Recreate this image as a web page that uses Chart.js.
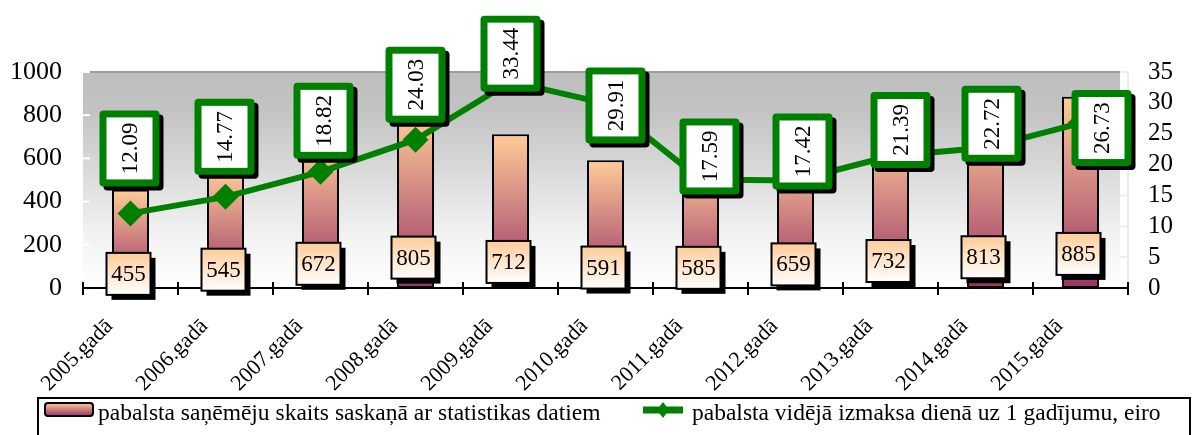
<!DOCTYPE html>
<html><head><meta charset="utf-8">
<script src="https://cdn.jsdelivr.net/npm/chart.js@4/dist/chart.umd.min.js"></script>
<style>html,body{margin:0;padding:0;background:#fff}#wrap{width:1198px;height:435px;position:relative}</style>
</head><body><div id="wrap"><canvas id="c" width="1198" height="435"></canvas></div>
<script>
// ---- data ----
const categories = ['2005.gadā','2006.gadā','2007.gadā','2008.gadā','2009.gadā','2010.gadā','2011.gadā','2012.gadā','2013.gadā','2014.gadā','2015.gadā'];
const recipients = [455,545,672,805,712,591,585,659,732,813,885];
const avgDaily = [12.09,14.77,18.82,24.03,33.44,29.91,17.59,17.42,21.39,22.72,26.73];
const leftTicks = [0,200,400,600,800,1000];
const rightTicks = [0,5,10,15,20,25,30,35];
const seriesNames = ['pabalsta saņēmēju skaits saskaņā ar statistikas datiem','pabalsta vidējā izmaksa dienā uz 1 gadījumu, eiro'];

// ---- style (label nudges in px, not data) ----
const lineLabelNudgeX = [-1,-1,3,0,0,10,9,7,10,6,21];
const lineLabelNudgeY = [-65,-60,-51,-55,-28,2,-23,-29,-26,-24,5];
const FONT = '"Liberation Serif","Times New Roman",serif';
const GREEN = '#008000';

function barGradient(ctx2d, top, bottom){
  const g = ctx2d.createLinearGradient(0, top, 0, bottom);
  g.addColorStop(0, '#FFCC99');
  g.addColorStop(1, '#993366');
  return g;
}

const decor = {
  id: 'decor',
  beforeDraw(chart){
    const {ctx, chartArea: a} = chart;
    ctx.save();
    const g = ctx.createLinearGradient(0, a.top, 0, a.bottom);
    g.addColorStop(0, '#BEBEBE');
    g.addColorStop(0.18, '#C3C3C3');
    g.addColorStop(0.75, '#F2F2F2');
    g.addColorStop(1, '#FFFFFF');
    ctx.fillStyle = g;
    ctx.fillRect(a.left, a.top, a.right - a.left - 8, a.bottom - a.top);
    ctx.strokeStyle = '#9C9C9C'; ctx.lineWidth = 2;
    ctx.beginPath(); ctx.moveTo(a.left, a.top); ctx.lineTo(a.right - 8, a.top); ctx.stroke();
    ctx.strokeStyle = '#E4E4E4'; ctx.lineWidth = 1.5;
    ctx.beginPath(); ctx.moveTo(a.right, a.top); ctx.lineTo(a.right, a.bottom); ctx.stroke();
    ctx.strokeStyle = '#FFFFFF'; ctx.lineWidth = 2;
    const y = chart.scales.y, y2 = chart.scales.y2;
    leftTicks.forEach(v => { const p = y.getPixelForValue(v); ctx.beginPath(); ctx.moveTo(a.left, p); ctx.lineTo(a.left + 7, p); ctx.stroke(); });
    ctx.strokeStyle = '#EEEEEE';
    rightTicks.forEach(v => { const p = y2.getPixelForValue(v); ctx.beginPath(); ctx.moveTo(a.right - 8, p); ctx.lineTo(a.right, p); ctx.stroke(); });
    ctx.restore();
  },
  beforeDatasetsDraw(chart){
    const {ctx, chartArea: a} = chart;
    ctx.save();
    ctx.strokeStyle = '#000'; ctx.lineWidth = 2;
    ctx.beginPath(); ctx.moveTo(a.left, a.bottom); ctx.lineTo(a.right, a.bottom); ctx.stroke();
    const n = categories.length, w = (a.right - a.left) / n;
    for (let i = 0; i <= n; i++) {
      const x = Math.round(a.left + i * w);
      ctx.beginPath(); ctx.moveTo(x, a.bottom - 6); ctx.lineTo(x, a.bottom + 7); ctx.stroke();
    }
    ctx.restore();
  },
  afterDatasetsDraw(chart){
    const ctx = chart.ctx;
    ctx.save();
    ctx.font = '23px ' + FONT;
    ctx.textAlign = 'center'; ctx.textBaseline = 'middle';
    const m0 = chart.getDatasetMeta(0);
    m0.data.forEach((el, i) => {
      const bw = 44, bh = 42;
      const cx = el.x - 2;
      const cy = el.base + (el.y - el.base) * 0.215 + 7;
      const x = cx - bw / 2, y = cy - bh / 2;
      ctx.fillStyle = '#000';
      ctx.fillRect(x + 5, y + 5, bw, bh);
      const g = ctx.createLinearGradient(0, y, 0, y + bh);
      g.addColorStop(0, '#FFCC99'); g.addColorStop(1, '#FFFFFF');
      ctx.fillStyle = g; ctx.fillRect(x, y, bw, bh);
      ctx.strokeStyle = '#000'; ctx.lineWidth = 2; ctx.strokeRect(x, y, bw, bh);
      ctx.fillStyle = '#000';
      ctx.fillText(String(recipients[i]), cx, cy + 1);
    });
    const m1 = chart.getDatasetMeta(1);
    m1.data.forEach((el, i) => {
      const bw = 60, bh = 76, bd = 7;
      const cx = el.x + lineLabelNudgeX[i];
      const cy = el.y + lineLabelNudgeY[i];
      const x = cx - bw / 2, y = cy - bh / 2;
      ctx.fillStyle = '#000';
      ctx.beginPath(); ctx.roundRect(x + 4, y + 4, bw, bh, 4); ctx.fill();
      ctx.fillStyle = GREEN;
      ctx.beginPath(); ctx.roundRect(x, y, bw, bh, 4); ctx.fill();
      ctx.fillStyle = '#FFFFFF';
      ctx.fillRect(x + bd, y + bd, bw - 2 * bd, bh - 2 * bd);
      ctx.save();
      ctx.translate(cx, cy);
      ctx.rotate(-Math.PI / 2);
      ctx.fillStyle = '#000';
      ctx.fillText(avgDaily[i].toFixed(2), 0, 1);
      ctx.restore();
    });
    ctx.restore();
  },
  afterDraw(chart){
    const {ctx} = chart;
    ctx.save();
    ctx.font = '22px ' + FONT;
    ctx.fillStyle = '#000';
    ctx.textAlign = 'right'; ctx.textBaseline = 'middle';
    const xs = chart.scales.x;
    categories.forEach((c, i) => {
      const px = xs.getPixelForValue(i);
      ctx.save();
      ctx.translate(px - 21, 323);
      ctx.rotate(-Math.PI / 4);
      ctx.fillText(c, 0, 0);
      ctx.restore();
    });
    // legend
    ctx.font = '23.5px ' + FONT;
    ctx.strokeStyle = '#000'; ctx.lineWidth = 2;
    ctx.strokeRect(38, 398, 1152, 50);
    ctx.beginPath(); ctx.roundRect(45, 403, 48, 13, 3);
    ctx.fillStyle = barGradient(ctx, 403, 416); ctx.fill(); ctx.stroke();
    ctx.fillStyle = '#000'; ctx.textAlign = 'left'; ctx.textBaseline = 'middle';
    ctx.fillText(seriesNames[0], 98, 414);
    ctx.strokeStyle = GREEN; ctx.lineWidth = 7;
    ctx.beginPath(); ctx.moveTo(643, 410); ctx.lineTo(683, 410); ctx.stroke();
    ctx.fillStyle = GREEN;
    ctx.beginPath(); ctx.moveTo(663, 402); ctx.lineTo(669, 410); ctx.lineTo(663, 418); ctx.lineTo(657, 410); ctx.closePath(); ctx.fill();
    ctx.fillStyle = '#000';
    ctx.fillText(seriesNames[1], 692, 414);
    ctx.restore();
  }
};

new Chart(document.getElementById('c'), {
  data: {
    labels: categories,
    datasets: [
      {
        type: 'bar', label: seriesNames[0], data: recipients, yAxisID: 'y', order: 2,
        backgroundColor(ctx){
          const chart = ctx.chart;
          if (!chart.chartArea || ctx.type !== 'data') return '#FFCC99';
          const y = chart.scales.y;
          return barGradient(chart.ctx, y.getPixelForValue(ctx.parsed.y), y.getPixelForValue(0));
        },
        borderColor: '#000', borderWidth: 2, borderSkipped: false,
        barPercentage: 0.39, categoryPercentage: 1
      },
      {
        type: 'line', label: seriesNames[1], data: avgDaily, yAxisID: 'y2', order: 1,
        borderColor: GREEN, borderWidth: 6, tension: 0,
        pointStyle: 'rectRot', pointRadius: 13, pointBackgroundColor: GREEN, pointBorderWidth: 0
      }
    ]
  },
  options: {
    responsive: false, animation: false, devicePixelRatio: 1,
    layout: { padding: { top: 72, left: 0, right: 0, bottom: 0 } },
    plugins: { legend: { display: false }, tooltip: { enabled: false } },
    scales: {
      x: {
        offset: true,
        grid: { display: false, drawTicks: false }, border: { display: false },
        ticks: { display: false },
        afterFit(s){ s.height = 147; }
      },
      y: {
        position: 'left', min: leftTicks[0], max: leftTicks[leftTicks.length - 1],
        ticks: { stepSize: leftTicks[1] - leftTicks[0], autoSkip: false, padding: 21, color: '#000', font: { family: FONT, size: 26 }, callback: v => String(v) },
        grid: { display: false, drawTicks: false }, border: { display: false },
        afterFit(s){ s.width = 83; }
      },
      y2: {
        position: 'right', min: rightTicks[0], max: rightTicks[rightTicks.length - 1],
        ticks: { stepSize: rightTicks[1] - rightTicks[0], autoSkip: false, padding: 20, color: '#000', font: { family: FONT, size: 25 }, callback: v => String(v) },
        grid: { display: false, drawTicks: false }, border: { display: false },
        afterFit(s){ s.width = 70; }
      }
    }
  },
  plugins: [decor]
});
</script>
</body></html>
